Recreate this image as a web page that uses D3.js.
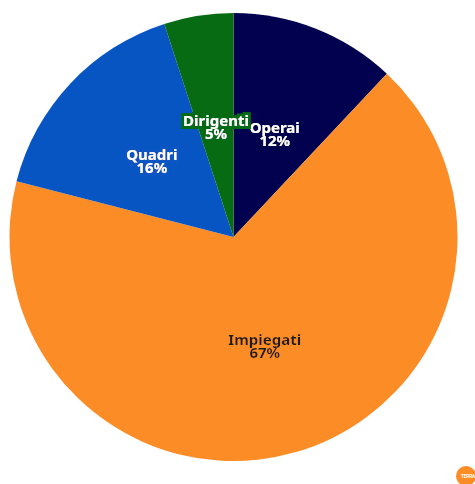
<!DOCTYPE html>
<html>
<head>
<meta charset="utf-8">
<script src="https://cdn.jsdelivr.net/npm/d3@7"></script>
<style>
  html, body { margin: 0; padding: 0; background: #fff; }
  svg { display: block; }
  .lbl { font-family: "Noto Sans", "Open Sans", sans-serif; font-weight: 700; font-size: 15px; }
</style>
</head>
<body>
<svg id="chart" width="475" height="484"></svg>
<script>
// Workforce composition by role
const categories = ["Operai", "Impiegati", "Quadri", "Dirigenti"];
const values = [12, 67, 16, 5];
const colors = ["#01014f", "#fb8c26", "#0755c3", "#066b12"];
const textColors = ["#ffffff", "#1a1a1a", "#ffffff", "#ffffff"];

const width = 475, height = 484;
const cx = 233.5, cy = 237, radius = 224;

const svg = d3.select("#chart");

// One halo filter per slice colour: dilate the glyph shapes and flood them
const defs = svg.append("defs");
colors.forEach((c, i) => {
  const f = defs.append("filter").attr("id", "halo" + i)
    .attr("x", "-20%").attr("y", "-30%").attr("width", "140%").attr("height", "160%");
  f.append("feMorphology").attr("in", "SourceAlpha").attr("operator", "dilate")
    .attr("radius", 2.5).attr("result", "grown");
  f.append("feFlood").attr("flood-color", c).attr("result", "col");
  f.append("feComposite").attr("in", "col").attr("in2", "grown")
    .attr("operator", "in").attr("result", "bg");
  const m = f.append("feMerge");
  m.append("feMergeNode").attr("in", "bg");
  m.append("feMergeNode").attr("in", "SourceGraphic");
});

const g = svg.append("g").attr("transform", `translate(${cx},${cy})`);

const data = categories.map((c, i) => ({ name: c, value: values[i], i }));

const pie = d3.pie().value(d => d.value).sort(null);
const arc = d3.arc().innerRadius(0).outerRadius(radius);

const arcs = pie(data);

g.selectAll("path.slice")
  .data(arcs)
  .join("path")
  .attr("class", "slice")
  .attr("d", arc)
  .attr("fill", d => colors[d.data.i]);

// Labels: name and percentage at each slice centroid
const total = d3.sum(values);
const labels = g.selectAll("text.lbl")
  .data(arcs)
  .join("text")
  .attr("class", "lbl")
  .attr("transform", d => {
    const [x, y] = arc.centroid(d);
    return `translate(${x},${y})`;
  })
  .attr("text-anchor", "middle")
  .attr("fill", d => textColors[d.data.i])
  .attr("filter", d => `url(#halo${d.data.i})`);

labels.append("tspan").attr("x", 0).attr("y", 0).text(d => d.data.name);
labels.append("tspan").attr("x", 0).attr("y", 13)
  .text(d => Math.round(d.data.value / total * 100) + "%");

// Small round badge in the bottom-right corner
const badge = svg.append("g").attr("transform", "translate(466,476)");
badge.append("circle").attr("r", 10).attr("fill", "#fb8c26");
badge.append("text")
  .attr("x", -5).attr("y", 1.5)
  .attr("font-family", "Roboto, sans-serif")
  .attr("font-size", 4.5)
  .attr("font-weight", 700)
  .attr("fill", "#fff")
  .text("TERRA");
</script>
</body>
</html>
